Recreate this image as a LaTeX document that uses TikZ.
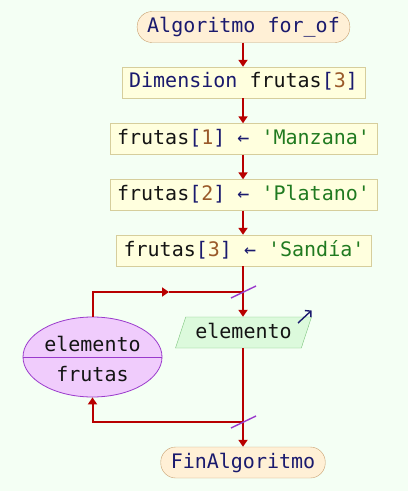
\documentclass[tikz,border=0pt]{standalone}
\usepackage{fontspec}
\setmonofont{DejaVu Sans Mono}
\usetikzlibrary{shapes.geometric, arrows.meta, calc}
\definecolor{bgcol}{HTML}{F4FFF4}
\definecolor{flowcol}{HTML}{B80000}
\definecolor{kwcol}{HTML}{1A1A6E}
\definecolor{numcol}{HTML}{9A5A2A}
\definecolor{strcol}{HTML}{207A20}
\definecolor{varcol}{HTML}{141414}
\definecolor{termdraw}{HTML}{C8A070}
\definecolor{termfill}{HTML}{FFF0D6}
\definecolor{procdraw}{HTML}{D6CE9C}
\definecolor{procfill}{HTML}{FFFFDE}
\definecolor{iodraw}{HTML}{7CC47C}
\definecolor{iofill}{HTML}{DCFADC}
\definecolor{loopdraw}{HTML}{9A3ACC}
\definecolor{loopfill}{HTML}{F0CCFC}
\newcommand{\kw}[1]{\textcolor{kwcol}{#1}}
\newcommand{\num}[1]{\textcolor{numcol}{#1}}
\newcommand{\str}[1]{\textcolor{strcol}{#1}}
\newcommand{\asg}[2]{frutas\kw{[}\num{#1}\kw{]} \kw{←} \str{'#2'}}
\tikzstyle{startstop} = [rectangle, rounded corners=15bp, minimum height=31bp, inner xsep=10bp, text height=14bp, text depth=3bp, draw=termdraw, fill=termfill, text=kwcol]
\tikzstyle{process} = [rectangle, minimum height=31bp, inner xsep=7bp, text height=14bp, text depth=3bp, draw=procdraw, fill=procfill, text=varcol]
\tikzstyle{io} = [trapezium, trapezium left angle=69, trapezium right angle=111, trapezium stretches, minimum width=136bp, minimum height=31bp, text height=14bp, text depth=3bp, draw=iodraw, fill=iofill, text=varcol]
\tikzstyle{loopnode} = [ellipse, minimum width=139bp, minimum height=80bp, draw=loopdraw, fill=loopfill, line width=0.8bp]
\tikzstyle{arrow} = [line width=2bp, flowcol, -{Triangle[width=9bp,length=7bp]}]
\tikzstyle{line} = [line width=2bp, flowcol]
\tikzstyle{tick} = [line width=1.4bp, loopdraw]
\begin{document}
\begin{tikzpicture}[x=1bp, y=-1bp, font=\ttfamily\fontsize{20bp}{24bp}\selectfont]
	\fill[bgcol] (0,0) rectangle (408,491);
	\useasboundingbox (0,0) rectangle (408,491);
	\node (start) [startstop] at (243.5,27) {Algoritmo for\_of};
	\node (dim) [process] at (243.5,82.5) {\kw{Dimension} frutas\kw{[}\num{3}\kw{]}};
	\node (set1) [process] at (243.5,139) {\asg{1}{Manzana}};
	\node (set2) [process] at (243.5,195) {\asg{2}{Platano}};
	\node (set3) [process] at (244,250.5) {\asg{3}{Sandía}};
	\node (elem) [io] at (243.5,332.5) {elemento};
	\node (each) [loopnode] at (92.5,357) {};
	\node (eachvar) [anchor=base, text=varcol] at (92.5,351) {elemento};
	\node (eachlist) [anchor=base, text=varcol] at (92.5,381) {frutas};
	\node (stop) [startstop] at (243,462.5) {FinAlgoritmo};
	\coordinate (join1) at (243,292);
	\coordinate (join2) at (243,422);
	\coordinate (half) at (169,292);
	% main flow
	\draw [arrow] (start.south -| join1) -- (dim.north -| join1);
	\draw [arrow] (dim.south -| join1) -- (set1.north -| join1);
	\draw [arrow] (set1.south -| join1) -- (set2.north -| join1);
	\draw [arrow] (set2.south -| join1) -- (set3.north -| join1);
	\draw [arrow] (set3.south -| join1) -- (elem.north -| join1);
	\draw [arrow] (elem.south -| join1) -- (stop.north -| join1);
	% loop back
	\draw [loopdraw, line width=1bp] (each.west) -- (each.east);
	\draw [arrow] (each.north) |- (half);
	\draw [line] (half) -- (join1);
	\draw [arrow] (join2) -| (each.south);
	\draw [tick] ($(join1)+(-12,6)$) -- ($(join1)+(13,-6)$);
	\draw [tick] ($(join2)+(-12,6)$) -- ($(join2)+(13,-6)$);
	\draw [line width=1.4bp, kwcol, -{Straight Barb[length=4bp,width=9bp]}] ($(elem.center)+(54.5,-9.5)$) -- ($(elem.center)+(68,-22)$);
\end{tikzpicture}
\end{document}
